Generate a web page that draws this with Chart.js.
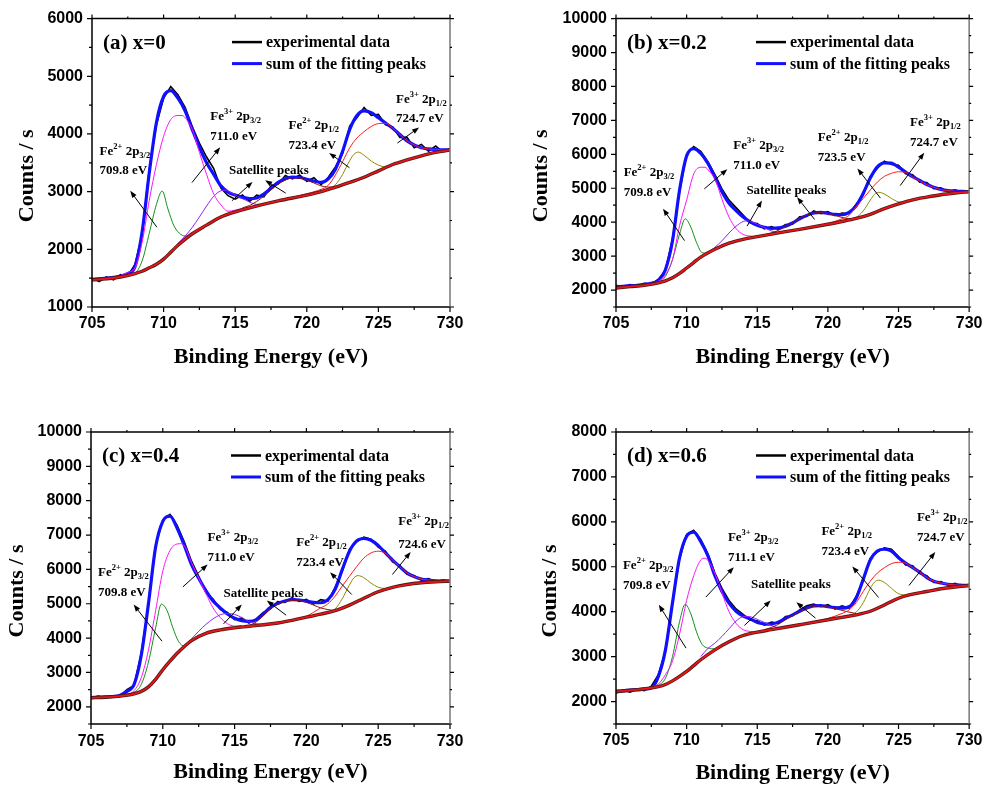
<!DOCTYPE html>
<html>
<head>
<meta charset="utf-8">
<script src="https://cdn.jsdelivr.net/npm/chart.js@4.4.1/dist/chart.umd.min.js"></script>
<style>
  body { margin: 0; background: #fff; }
  canvas { position: absolute; }
</style>
</head>
<body>
<canvas id="chartA" style="left:0;top:0" width="494" height="394"></canvas>
<canvas id="chartB" style="left:494px;top:0" width="495" height="394"></canvas>
<canvas id="chartC" style="left:0;top:395px" width="494" height="394"></canvas>
<canvas id="chartD" style="left:494px;top:395px" width="495" height="394"></canvas>
<script>
// binding energy grids (eV)
const energy = [705,705.5,706,706.5,707,707.5,708,708.5,709,709.5,710,710.5,711,711.5,712,712.5,713,713.5,714,714.5,715,715.5,716,716.5,717,717.5,718,718.5,719,719.5,720,720.5,721,721.5,722,722.5,723,723.5,724,724.5,725,725.5,726,726.5,727,727.5,728,728.5,729,729.5,730];
const bgE = [705,706,707,708,708.5,709,709.5,710,710.5,711,712,713,714,715,716,718,720,721,722,723,724,725,726,727,728,729,730];
const gE = [707.5,708,708.5,709,709.5,709.9,710.3,710.7,711.1,711.5,712];
const mE = [707,707.5,708,708.5,709,709.5,710,710.5,711,711.3,711.6,712,712.5,713,713.5,714,714.5,715,715.5];
const pE = [711,711.5,712,712.5,713,713.5,714,714.3,714.6,715,715.5,716,716.5,717];
const sE = [715.5,716,716.5,717,717.5,718,718.5,719,719.5,720,720.5,721,721.5,722];
const oE = [721.5,722,722.5,723,723.3,723.6,724,724.5,725,725.5];
const rE = [718,719,720,721,721.5,722,722.5,723,723.5,724,724.5,725,725.5,726,726.5,727,727.5,728,729,730];

const xTicks = [705, 710, 715, 720, 725, 730];
const yTicksA = [1000, 2000, 3000, 4000, 5000, 6000];
const yTicksB = [2000, 3000, 4000, 5000, 6000, 7000, 8000, 9000, 10000];
const yTicksC = [2000, 3000, 4000, 5000, 6000, 7000, 8000, 9000, 10000];
const yTicksD = [2000, 3000, 4000, 5000, 6000, 7000, 8000];

// (a) x=0
const expA = [1500,1440,1520,1470,1560,1540,1740,2260,3380,4160,4620,4820,4680,4460,4130,3840,3600,3400,3060,2930,2870,2940,2830,2940,2910,3100,3130,3280,3220,3290,3180,3240,3120,3250,3430,3660,4140,4280,4460,4320,4340,4160,4120,3940,3940,3760,3820,3700,3790,3690,3750];
const sumA = [1480,1490,1500,1515,1535,1580,1700,2300,3330,4200,4650,4750,4620,4400,4080,3770,3500,3300,3100,2990,2940,2900,2880,2890,2960,3060,3160,3225,3250,3245,3215,3185,3160,3220,3390,3700,4080,4320,4400,4370,4280,4190,4100,3990,3880,3810,3760,3740,3730,3725,3720];
const bgA = [1470,1490,1520,1580,1620,1680,1740,1830,1950,2070,2270,2420,2560,2650,2720,2840,2940,3000,3080,3160,3250,3360,3470,3550,3620,3680,3720];
const greenA = [1570,1590,1800,2280,2780,3010,2700,2420,2280,2230,2270];
const magentaA = [1545,1600,1680,2120,2850,3470,3960,4250,4320,4320,4250,4080,3680,3300,2960,2770,2660,2680,2710];
const violetA = [2100,2230,2380,2560,2750,2920,3015,3025,2995,2940,2880,2820,2780,2780];
const sat2A = [2720,2760,2830,2920,3030,3130,3200,3240,3235,3200,3150,3100,3080,3080];
const oliveA = [3050,3120,3300,3540,3650,3685,3630,3530,3460,3420];
const redA = [2850,2905,2965,3040,3110,3290,3520,3760,3930,4040,4130,4180,4185,4100,3990,3880,3810,3760,3730,3720];

// (b) x=0.2
const expB = [2140,2080,2160,2110,2200,2170,2320,2580,3500,4900,6000,6230,6090,5780,5400,4980,4650,4430,4210,3980,3960,3800,3870,3790,3930,3940,4160,4170,4330,4250,4310,4190,4270,4250,4530,4800,5350,5590,5800,5700,5680,5430,5400,5180,5170,4990,5010,4900,4950,4880,4930];
const sumB = [2100,2110,2125,2140,2165,2200,2280,2600,3450,4950,5950,6170,6030,5740,5330,4900,4560,4340,4150,4010,3910,3850,3820,3830,3880,3980,4100,4200,4270,4290,4260,4230,4220,4290,4480,4850,5300,5630,5750,5740,5620,5480,5340,5230,5110,5030,4965,4930,4915,4905,4900];
const bgB = [2060,2100,2140,2210,2270,2360,2490,2650,2810,2970,3200,3380,3495,3575,3650,3790,3940,4020,4110,4230,4400,4540,4660,4740,4810,4860,4900];
const greenB = [2170,2220,2400,2900,3650,4100,3850,3400,3100,3080,3200];
const magentaB = [2150,2180,2260,2450,2900,3900,4650,5420,5620,5620,5500,5280,4680,4150,3810,3640,3590,3580,3610];
const violetB = [2980,3100,3260,3450,3680,3880,4020,4040,4010,3940,3840,3740,3700,3720];
const sat2B = [3620,3680,3760,3870,3990,4110,4210,4270,4280,4250,4200,4140,4100,4110];
const oliveB = [4080,4140,4330,4650,4820,4880,4830,4700,4600,4590];
const redB = [3800,3870,3960,4100,4200,4450,4700,4950,5180,5350,5440,5485,5470,5330,5220,5105,5030,4960,4910,4900];

// (c) x=0.4
const expC = [2250,2310,2260,2320,2290,2500,2620,3560,4960,6700,7440,7600,7280,6800,6240,5800,5320,5140,4840,4750,4540,4580,4440,4560,4750,4850,5060,5040,5180,5070,5130,4990,5120,5080,5480,5950,6590,6800,6940,6880,6650,6530,6220,6120,5860,5820,5690,5730,5640,5690,5660];
const sumC = [2270,2280,2290,2300,2330,2450,2650,3500,5000,6650,7400,7550,7200,6700,6140,5740,5380,5080,4880,4700,4580,4510,4490,4530,4700,4900,5010,5080,5120,5110,5075,5040,5030,5120,5420,6000,6530,6830,6900,6850,6700,6480,6270,6080,5900,5790,5720,5690,5670,5660,5657];
const bgC = [2260,2280,2310,2380,2450,2580,2800,3080,3330,3560,3930,4140,4240,4300,4345,4440,4610,4700,4800,4960,5160,5350,5480,5560,5610,5640,5660];
const greenC = [2340,2420,2650,3300,4300,4990,4800,4300,3900,3770,3930];
const magentaC = [2320,2360,2470,2850,3650,4800,5950,6550,6740,6750,6620,6200,5750,5300,4880,4600,4420,4350,4370];
const violetC = [3580,3770,3980,4200,4400,4560,4680,4710,4715,4690,4600,4480,4420,4400];
const sat2C = [4330,4370,4470,4650,4850,4980,5060,5100,5090,5040,4960,4880,4830,4800];
const oliveC = [4760,4850,5150,5550,5750,5820,5760,5600,5480,5440];
const redC = [4450,4530,4640,4880,5000,5220,5520,5800,6080,6330,6480,6530,6470,6270,6080,5900,5790,5720,5670,5657];

// (d) x=0.6
const expD = [2190,2250,2210,2280,2240,2340,2600,3120,4230,5180,5720,5810,5610,5290,4860,4520,4250,4060,3940,3810,3800,3700,3770,3740,3890,3910,4040,4130,4170,4110,4160,4060,4130,4080,4340,4690,5190,5330,5420,5390,5230,5040,5020,4850,4800,4650,4670,4590,4630,4570,4610];
const sumD = [2230,2240,2255,2265,2280,2300,2560,3150,4200,5200,5680,5770,5560,5250,4800,4450,4190,4010,3900,3840,3760,3730,3725,3770,3850,3930,4010,4080,4130,4135,4110,4090,4080,4110,4300,4720,5150,5350,5390,5350,5200,5080,4980,4880,4760,4680,4640,4610,4595,4588,4583];
const bgD = [2220,2250,2280,2330,2380,2460,2560,2670,2800,2930,3150,3330,3470,3545,3600,3710,3820,3875,3930,4010,4150,4300,4390,4450,4510,4550,4583];
const greenD = [2300,2360,2520,3000,3780,4165,3950,3550,3270,3190,3170];
const magentaD = [2290,2320,2390,2600,2900,3500,4250,4800,5150,5190,5100,4850,4420,4000,3740,3600,3560,3550,3575];
const violetD = [3000,3180,3300,3450,3620,3790,3890,3895,3880,3830,3760,3690,3650,3660];
const sat2D = [3600,3650,3720,3820,3920,4000,4070,4120,4130,4100,4070,4030,3990,3960];
const oliveD = [3920,3990,4200,4520,4660,4700,4650,4520,4400,4370];
const redD = [3710,3770,3850,3960,4040,4200,4450,4680,4860,4980,5070,5100,5080,4980,4880,4760,4680,4640,4595,4583];

// peak labels and arrows, placed in data units
const labelsA = [
    {ion: ['2+', '3/2'], e: 705.53, v: 3643}, {text: '709.8 eV', e: 705.53, v: 3300},
    {ion: ['3+', '3/2'], e: 713.26, v: 4244}, {text: '711.0 eV', e: 713.26, v: 3900},
    {text: 'Satellite peaks', e: 714.56, v: 3311},
    {ion: ['2+', '1/2'], e: 718.72, v: 4089}, {text: '723.4 eV', e: 718.72, v: 3746},
    {ion: ['3+', '1/2'], e: 726.23, v: 4530}, {text: '724.7 eV', e: 726.23, v: 4204}
];
const arrowsA = [[709.53,2384,707.67,3014],[711.98,3157,713.95,3769],[714.77,2842,716.21,3168],[718.53,2974,717.09,3197],[722.98,3414,721.56,3672],[726.33,3843,727.84,4112]];

const labelsB = [
    {ion: ['2+', '3/2'], e: 705.54, v: 5369}, {text: '709.8 eV', e: 705.54, v: 4786},
    {ion: ['3+', '3/2'], e: 713.3, v: 6146}, {text: '711.0 eV', e: 713.3, v: 5563},
    {text: 'Satellite peaks', e: 714.23, v: 4835},
    {ion: ['2+', '1/2'], e: 719.29, v: 6388}, {text: '723.5 eV', e: 719.29, v: 5806},
    {ion: ['3+', '1/2'], e: 725.82, v: 6825}, {text: '724.7 eV', e: 725.82, v: 6243}
];
const arrowsB = [[709.85,3456,708.33,4398],[711.25,4981,712.88,5563],[714.28,3883,715.33,4641],[719.06,4078,717.82,4738],[723.72,4709,722.09,5583],[725.12,5078,726.82,6049]];

const labelsC = [
    {ion: ['2+', '3/2'], e: 705.49, v: 5802}, {text: '709.8 eV', e: 705.49, v: 5220},
    {ion: ['3+', '3/2'], e: 713.12, v: 6820}, {text: '711.0 eV', e: 713.12, v: 6239},
    {text: 'Satellite peaks', e: 714.23, v: 5191},
    {ion: ['2+', '1/2'], e: 719.29, v: 6675}, {text: '723.4 eV', e: 719.29, v: 6093},
    {ion: ['3+', '1/2'], e: 726.4, v: 7305}, {text: '724.6 eV', e: 726.4, v: 6627}
];
const arrowsC = [[709.94,3911,707.97,4978],[711.4,5492,713.12,6142],[714.23,4415,715.5,4978],[718.59,4667,717.24,5094],[723.16,5269,721.65,5918],[725.99,5851,727.26,6510]];

const labelsD = [
    {ion: ['2+', '3/2'], e: 705.49, v: 4955}, {text: '709.8 eV', e: 705.49, v: 4509},
    {ion: ['3+', '3/2'], e: 712.92, v: 5563}, {text: '711.1 eV', e: 712.92, v: 5118},
    {text: 'Satellite peaks', e: 714.55, v: 4524},
    {ion: ['2+', '1/2'], e: 719.54, v: 5697}, {text: '723.4 eV', e: 719.54, v: 5252},
    {ion: ['3+', '1/2'], e: 726.3, v: 6009}, {text: '724.7 eV', e: 726.3, v: 5563}
];
const arrowsD = [[709.96,3188,708.03,4153],[711.36,4324,713.34,4992],[714.09,3693,715.95,4249],[719.12,3856,717.77,4212],[723.59,4316,721.73,5007],[725.74,4583,727.6,5326]];

const panels = [
    {id: 'chartA', title: '(a) x=0', yMin: 1000, yMax: 6000, yTicks: yTicksA,
     exp: expA, sum: sumA, bg: bgA, green: greenA, magenta: magentaA, violet: violetA, sat2: sat2A, olive: oliveA, red: redA,
     labels: labelsA, arrows: arrowsA,
     axisW: 92, padR: 44, padT: 16, xAxisH: 87, tickPad: 6.5, yTitleX: 27, xTitleDy: 50},
    {id: 'chartB', title: '(b) x=0.2', yMin: 1500, yMax: 10000, yTicks: yTicksB,
     exp: expB, sum: sumB, bg: bgB, green: greenB, magenta: magentaB, violet: violetB, sat2: sat2B, olive: oliveB, red: redB,
     labels: labelsB, arrows: arrowsB,
     axisW: 122, padR: 16, padT: 16, xAxisH: 87, tickPad: 6.5, yTitleX: 47, xTitleDy: 50},
    {id: 'chartC', title: '(c) x=0.4', yMin: 1500, yMax: 10000, yTicks: yTicksC,
     exp: expC, sum: sumC, bg: bgC, green: greenC, magenta: magentaC, violet: violetC, sat2: sat2C, olive: oliveC, red: redC,
     labels: labelsC, arrows: arrowsC,
     axisW: 91, padR: 44, padT: 37, xAxisH: 65, tickPad: 8, yTitleX: 17.5, xTitleDy: 48},
    {id: 'chartD', title: '(d) x=0.6', yMin: 1500, yMax: 8000, yTicks: yTicksD,
     exp: expD, sum: sumD, bg: bgD, green: greenD, magenta: magentaD, violet: violetD, sat2: sat2D, olive: oliveD, red: redD,
     labels: labelsD, arrows: arrowsD,
     axisW: 122, padR: 16, padT: 37, xAxisH: 65, tickPad: 6.5, yTitleX: 56.7, xTitleDy: 49}
];

const SERIF = '"Liberation Serif", "Times New Roman", serif';
const SANS = '"Liberation Sans", Arial, sans-serif';

const xy = (es, vs) => es.map((e, i) => ({x: e, y: vs[i]}));

function curve(label, es, vs, color, width, order, smooth) {
    return {
        label, data: xy(es, vs), borderColor: color, borderWidth: width, order,
        pointRadius: 0, fill: false, tension: 0,
        cubicInterpolationMode: smooth ? 'monotone' : 'default'
    };
}

function drawParts(ctx, parts, x, y) {
    let cx = x;
    parts.forEach(([t, kind]) => {
        ctx.font = 'bold ' + (kind ? 8.5 : 13) + 'px ' + SERIF;
        const dy = kind === 'sup' ? -6 : kind === 'sub' ? 3 : 0;
        ctx.fillText(t, cx, y + dy);
        cx += ctx.measureText(t).width;
    });
}

function drawArrow(ctx, x1, y1, x2, y2) {
    const ang = Math.atan2(y2 - y1, x2 - x1);
    const len = 7, half = 2.6;
    ctx.beginPath();
    ctx.moveTo(x1, y1);
    ctx.lineTo(x2 - Math.cos(ang) * len * 0.8, y2 - Math.sin(ang) * len * 0.8);
    ctx.stroke();
    ctx.beginPath();
    ctx.moveTo(x2, y2);
    ctx.lineTo(x2 - Math.cos(ang) * len - Math.sin(ang) * half, y2 - Math.sin(ang) * len + Math.cos(ang) * half);
    ctx.lineTo(x2 - Math.cos(ang) * len + Math.sin(ang) * half, y2 - Math.sin(ang) * len - Math.cos(ang) * half);
    ctx.closePath();
    ctx.fill();
}

function makeChart(p) {
    const decor = {
        id: 'decor',
        afterDraw(chart) {
            const {ctx, chartArea: a, scales: {x, y}} = chart;
            ctx.save();
            ctx.lineWidth = 1.5;

            // frame
            ctx.strokeStyle = '#000';
            ctx.beginPath();
            ctx.moveTo(a.right, a.top); ctx.lineTo(a.left, a.top);
            ctx.lineTo(a.left, a.bottom); ctx.lineTo(a.right, a.bottom);
            ctx.stroke();
            ctx.strokeStyle = '#777';
            ctx.beginPath();
            ctx.moveTo(a.right, a.top); ctx.lineTo(a.right, a.bottom);
            ctx.stroke();

            // outward ticks, major and minor
            ctx.strokeStyle = '#000';
            ctx.lineWidth = 1.2;
            ctx.beginPath();
            for (let v = 705; v <= 730; v += 2.5) {
                const px = x.getPixelForValue(v);
                const len = v % 5 === 0 ? 5 : 3;
                ctx.moveTo(px, a.bottom); ctx.lineTo(px, a.bottom + len);
                ctx.moveTo(px, a.top); ctx.lineTo(px, a.top - (len - 1));
            }
            for (let v = p.yMin; v <= p.yMax; v += 500) {
                const py = y.getPixelForValue(v);
                const len = v % 1000 === 0 ? 5 : 3;
                ctx.moveTo(a.left, py); ctx.lineTo(a.left - len, py);
                ctx.moveTo(a.right, py); ctx.lineTo(a.right + (len - 1), py);
            }
            ctx.stroke();

            // axis titles
            ctx.fillStyle = '#000';
            ctx.font = 'bold 22px ' + SERIF;
            ctx.textAlign = 'center';
            ctx.textBaseline = 'middle';
            ctx.fillText('Binding Energy (eV)', (a.left + a.right) / 2, a.bottom + p.xTitleDy);
            ctx.save();
            ctx.translate(p.yTitleX, (a.top + a.bottom) / 2 + 13);
            ctx.rotate(-Math.PI / 2);
            ctx.fillText('Counts / s', 0, 0);
            ctx.restore();

            // panel title
            ctx.textAlign = 'left';
            ctx.textBaseline = 'alphabetic';
            ctx.font = 'bold 21px ' + SERIF;
            ctx.fillText(p.title, a.left + 11, a.top + 30);

            // legend
            const legend = [['experimental data', '#000', 2.5], ['sum of the fitting peaks', '#1010ff', 3]];
            ctx.font = 'bold 16px ' + SERIF;
            ctx.textBaseline = 'middle';
            legend.forEach(([txt, col, w], i) => {
                const ly = a.top + 23.5 + i * 21.5;
                ctx.strokeStyle = col;
                ctx.lineWidth = w;
                ctx.beginPath();
                ctx.moveTo(a.left + 140, ly); ctx.lineTo(a.left + 170, ly);
                ctx.stroke();
                ctx.fillText(txt, a.left + 174, ly + 1);
            });

            // peak labels
            ctx.textBaseline = 'alphabetic';
            p.labels.forEach(l => {
                const lx = x.getPixelForValue(l.e), ly = y.getPixelForValue(l.v);
                const parts = l.ion
                    ? [['Fe', ''], [l.ion[0], 'sup'], [' 2p', ''], [l.ion[1], 'sub']]
                    : [[l.text, '']];
                drawParts(ctx, parts, lx, ly);
            });

            // arrows
            ctx.strokeStyle = '#000';
            ctx.lineWidth = 1;
            p.arrows.forEach(([e1, v1, e2, v2]) => {
                drawArrow(ctx, x.getPixelForValue(e1), y.getPixelForValue(v1),
                    x.getPixelForValue(e2), y.getPixelForValue(v2));
            });
            ctx.restore();
        }
    };

    return new Chart(document.getElementById(p.id), {
        type: 'line',
        data: {
            datasets: [
                curve('background', bgE, p.bg, '#e8141c', 1.8, 0, true),
                curve('background edge', bgE, p.bg, '#4a1a10', 3.4, 1, true),
                curve('Fe3+ 2p1/2', rE, p.red, '#ff1a1a', 1, 2, true),
                curve('Fe2+ 2p1/2', oE, p.olive, '#8c8a00', 1, 3, true),
                curve('satellite 2', sE, p.sat2, '#8a1010', 1, 4, true),
                curve('satellite 1', pE, p.violet, '#9020ff', 1, 5, true),
                curve('Fe3+ 2p3/2', mE, p.magenta, '#ff10ff', 1, 6, true),
                curve('Fe2+ 2p3/2', gE, p.green, '#10901a', 1, 7, true),
                curve('sum of the fitting peaks', energy, p.sum, '#1010ff', 3.2, 8, true),
                curve('experimental data', energy, p.exp, '#000', 1.6, 9, false)
            ]
        },
        options: {
            responsive: false,
            animation: false,
            events: [],
            layout: {padding: {left: 0, right: p.padR, top: p.padT, bottom: 0}},
            plugins: {legend: {display: false}, tooltip: {enabled: false}},
            scales: {
                x: {
                    type: 'linear', min: 705, max: 730,
                    afterBuildTicks: s => { s.ticks = xTicks.map(v => ({value: v})); },
                    afterFit: s => { s.height = p.xAxisH; },
                    grid: {display: false, drawTicks: false},
                    border: {display: false},
                    ticks: {
                        color: '#000', padding: p.tickPad, maxRotation: 0, autoSkip: false,
                        font: {family: SANS, size: 16, weight: 'bold'},
                        callback: v => String(v)
                    }
                },
                y: {
                    type: 'linear', min: p.yMin, max: p.yMax,
                    afterBuildTicks: s => { s.ticks = p.yTicks.map(v => ({value: v})); },
                    afterFit: s => { s.width = p.axisW; },
                    grid: {display: false, drawTicks: false},
                    border: {display: false},
                    ticks: {
                        color: '#000', padding: 9, autoSkip: false,
                        font: {family: SANS, size: 16, weight: 'bold'},
                        callback: v => String(v)
                    }
                }
            }
        },
        plugins: [decor]
    });
}

const charts = panels.map(makeChart);
</script>
</body>
</html>
